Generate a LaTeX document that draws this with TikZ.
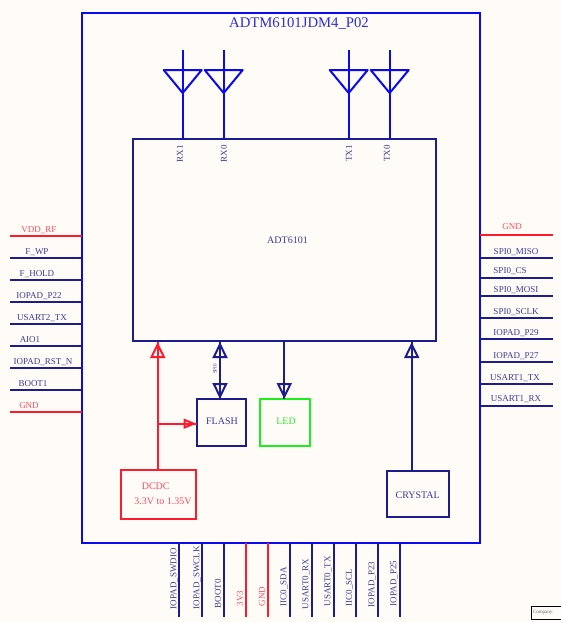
\documentclass[tikz,border=0pt]{standalone}
\usepackage{fontspec}
\setmainfont{Liberation Serif}
\usetikzlibrary{arrows.meta}
\definecolor{bgc}{HTML}{FFFCF8}
\definecolor{wireblue}{HTML}{0A0AF0}
\definecolor{wirenavy}{HTML}{1C1C8C}
\definecolor{wirered}{HTML}{FF1A2E}
\definecolor{wiregreen}{HTML}{1CF01C}
\definecolor{txtnavy}{HTML}{3A3A98}
\definecolor{txtred}{HTML}{FF4A5A}
\definecolor{txtgreen}{HTML}{30E830}
\definecolor{txtblue}{HTML}{2A2AE0}
\tikzset{
  x=1pt,y=-1pt,
  every node/.style={inner sep=0pt,outer sep=0pt},
  wire/.style={line width=2pt,line cap=butt},
  navywire/.style={wire,draw=wirenavy},
  redwire/.style={wire,draw=wirered},
  bluewire/.style={wire,draw=wireblue},
  boxnode/.style={draw,line width=2pt,fill=bgc},
  hollowtip/.style={-{Triangle[open,length=16pt,width=15pt,line width=2pt]}},
  hollowsmall/.style={-{Triangle[open,length=13pt,width=10pt,line width=2pt]}},
  pinnavy/.style={font=\fontsize{9}{10}\selectfont,text=txtnavy},
  pinred/.style={font=\fontsize{9}{10}\selectfont,text=txtred},
  vnavy/.style={font=\fontsize{9}{10}\selectfont,text=txtnavy,rotate=90,anchor=west},
  vred/.style={font=\fontsize{9}{10}\selectfont,text=txtred,rotate=90,anchor=west},
  ant/.style={font=\fontsize{9}{10}\selectfont,text=txtnavy,rotate=90,anchor=east},
  boxtext/.style={font=\fontsize{10}{11}\selectfont},
}
\begin{document}
\begin{tikzpicture}
\useasboundingbox[fill=bgc] (0,0) rectangle (561,622);
\node[draw=wireblue,line width=2.4pt,minimum width=398pt,minimum height=530pt] (outer) at (281,278) {};
\node[anchor=center,font=\fontsize{14.7}{16}\selectfont,text=txtblue] (title) at (299,24) {ADTM6101JDM4\_P02};
\node[boxnode,draw=wirenavy,minimum width=303pt,minimum height=202pt] (chip) at (284.5,240) {};
\node[boxtext,text=txtnavy] (chiplabel) at (287.5,240) {ADT6101};
\node[boxnode,draw=wirenavy,minimum width=49pt,minimum height=47pt] (flash) at (221,422.5) {};
\node[boxtext,text=txtnavy] (flashlabel) at (222,421) {FLASH};
\node[boxnode,draw=wiregreen,minimum width=50pt,minimum height=47pt] (led) at (285,422.5) {};
\node[boxtext,text=txtgreen] (ledlabel) at (286,421) {LED};
\node[boxnode,draw=wirered,minimum width=75pt,minimum height=49pt] (dcdc) at (158,494.5) {};
\node[boxtext,text=txtred] (dcdca) at (155.7,486.7) {DCDC};
\node[boxtext,text=txtred] (dcdcb) at (163,501.5) {3.3V to 1.35V};
\node[boxnode,draw=wirenavy,minimum width=62pt,minimum height=46pt] (crystal) at (418,493.5) {};
\node[boxtext,text=txtnavy] (crystallabel) at (417.7,495) {CRYSTAL};
% antennas
\foreach \i/\ax/\lx/\t in {a/182.7/180/RX1,b/223.7/224/RX0,c/348.7/349/TX1,d/389.7/387/TX0}{
  \coordinate (tip\i) at (\ax,50);
  \draw[bluewire] (tip\i) -- (tip\i |- chip.north);
  \draw[bluewire,line join=round] (\ax-19,70) -- (\ax+19,70) -- (\ax,93) -- cycle;
  \node[ant] (lab\i) at (\lx,145) {\t};
}
% left pins
\foreach \i/\y/\lx/\ly/\t/\s/\w in {
  1/236/39/230/VDD\_RF/pinred/redwire,
  2/258/37/252/F\_WP/pinnavy/navywire,
  3/280/37/274/F\_HOLD/pinnavy/navywire,
  4/302/39/296/IOPAD\_P22/pinnavy/navywire,
  5/324/42/318/USART2\_TX/pinnavy/navywire,
  6/346/30/340/AIO1/pinnavy/navywire,
  7/368/43/362/IOPAD\_RST\_N/pinnavy/navywire,
  8/390/33/384/BOOT1/pinnavy/navywire,
  9/411.5/29/406/GND/pinred/redwire}{
  \coordinate (L\i) at (10,\y);
  \draw[\w] (L\i) -- (L\i -| outer.west);
  \node[\s] (Lt\i) at (\lx,\ly) {\t};
}
% right pins
\foreach \i/\y/\lx/\ly/\t/\s/\w in {
  1/235/512/227/GND/pinred/redwire,
  2/258/516/252/SPI0\_MISO/pinnavy/navywire,
  3/278/510/271/SPI0\_CS/pinnavy/navywire,
  4/296/516/290/SPI0\_MOSI/pinnavy/navywire,
  5/318/516/312/SPI0\_SCLK/pinnavy/navywire,
  6/339/516/333.5/IOPAD\_P29/pinnavy/navywire,
  7/362/516/356/IOPAD\_P27/pinnavy/navywire,
  8/383.5/515/378/USART1\_TX/pinnavy/navywire,
  9/406/516/399/USART1\_RX/pinnavy/navywire}{
  \coordinate (R\i) at (553,\y);
  \draw[\w] (R\i) -- (R\i -| outer.east);
  \node[\s] (Rt\i) at (\lx,\ly) {\t};
}
% bottom pins
\foreach \i/\x/\lx/\ly/\t/\s/\w in {
  1/179.3/174/609/IOPAD\_SWDIO/vnavy/navywire,
  2/201.7/197/609/IOPAD\_SWCLK/vnavy/navywire,
  3/223.7/218/608/BOOT0/vnavy/navywire,
  4/245.7/240/606/3V3/vred/redwire,
  5/267.7/262/606/GND/vred/redwire,
  6/289.7/284/606/IIC0\_SDA/vnavy/navywire,
  7/311.7/306/609/USART0\_RX/vnavy/navywire,
  8/333.7/328/606/USART0\_TX/vnavy/navywire,
  9/355.7/349.5/606/IIC0\_SCL/vnavy/navywire,
  10/377.7/372/607/IOPAD\_P23/vnavy/navywire,
  11/399.7/394/606/IOPAD\_P25/vnavy/navywire}{
  \coordinate (B\i) at (\x,617);
  \draw[\w] (B\i) -- (B\i |- outer.south);
  \node[\s] (Bt\i) at (\lx,\ly) {\t};
}
% internal connectors
\coordinate (dcup) at (157.7,470);
\coordinate (dcchip) at (157.7,342);
\coordinate (dcbranch) at (157.7,423.7);
\draw[redwire] (dcup |- dcdc.north) -- (dcchip);
\draw[redwire,hollowtip] (dcup |- dcdc.north) -- (dcchip);
\draw[redwire] (dcbranch) -- (dcbranch -| flash.west);
\draw[redwire,hollowsmall] (dcbranch) -- (dcbranch -| flash.west);
\coordinate (spix) at (220,342);
\draw[navywire] (spix |- chip.south) -- (spix |- flash.north);
\draw[navywire,hollowtip] (spix |- flash.north) -- (spix);
\draw[navywire,hollowtip] (spix) -- (spix |- flash.north);
\node[font=\fontsize{5}{6}\selectfont,text=txtnavy,rotate=90] (spilabel) at (215,369) {SPI0};
\coordinate (ledx) at (284.3,342);
\draw[navywire] (ledx |- chip.south) -- (ledx |- led.north);
\draw[navywire,hollowtip] (ledx |- chip.south) -- (ledx |- led.north);
\coordinate (crx) at (411.7,342);
\draw[navywire] (crx |- crystal.north) -- (crx);
\draw[navywire,hollowtip] (crx |- crystal.north) -- (crx);
% title block corner
\node[draw=black,line width=0.8pt,fill=bgc,anchor=north west,minimum width=40pt,minimum height=13pt] (corner) at (531,606) {};
\node[anchor=west,font=\fontsize{5}{6}\selectfont,text=black!60] (company) at (533,612.5) {Company:};
\end{tikzpicture}
\end{document}
